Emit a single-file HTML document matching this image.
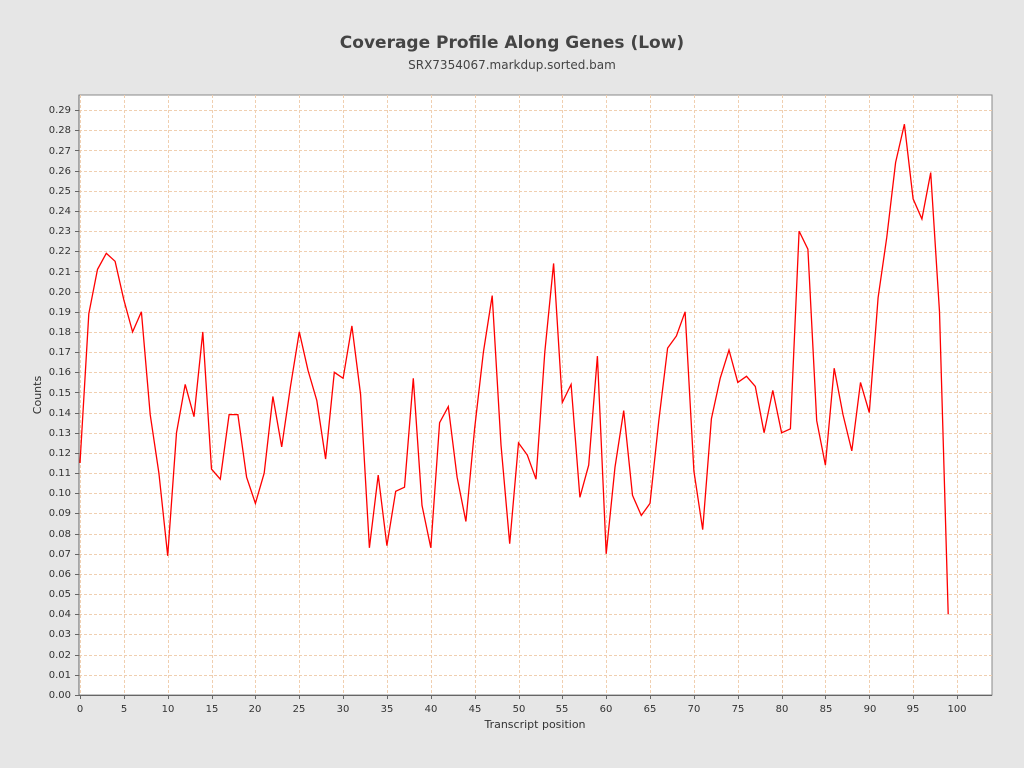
<!DOCTYPE html>
<html><head><meta charset="utf-8"><style>
html,body{margin:0;padding:0;background:#e6e6e6;}
svg{display:block;font-family:"DejaVu Sans","Liberation Sans",sans-serif;}
</style></head><body>
<svg id="s" width="1024" height="768" xmlns="http://www.w3.org/2000/svg">
<rect width="1024" height="768" fill="#e6e6e6"/>
<text x="512" y="48" text-anchor="middle" font-size="17" font-weight="bold" fill="#444">Coverage Profile Along Genes (Low)</text>
<text x="512" y="69" text-anchor="middle" font-size="12" fill="#444">SRX7354067.markdup.sorted.bam</text>
<rect x="79" y="95" width="913" height="600" fill="#fff" stroke="#888" stroke-width="1"/>
<g id="grid"></g>
<g font-size="10" fill="#333" text-anchor="end">
<text x="71" y="698">0.00</text><text x="71" y="678">0.01</text><text x="71" y="658">0.02</text><text x="71" y="637">0.03</text><text x="71" y="617">0.04</text><text x="71" y="597">0.05</text><text x="71" y="577">0.06</text><text x="71" y="557">0.07</text><text x="71" y="537">0.08</text><text x="71" y="516">0.09</text><text x="71" y="496">0.10</text><text x="71" y="476">0.11</text><text x="71" y="456">0.12</text><text x="71" y="436">0.13</text><text x="71" y="416">0.14</text><text x="71" y="396">0.15</text><text x="71" y="375">0.16</text><text x="71" y="355">0.17</text><text x="71" y="335">0.18</text><text x="71" y="315">0.19</text><text x="71" y="295">0.20</text><text x="71" y="275">0.21</text><text x="71" y="254">0.22</text><text x="71" y="234">0.23</text><text x="71" y="214">0.24</text><text x="71" y="194">0.25</text><text x="71" y="174">0.26</text><text x="71" y="154">0.27</text><text x="71" y="133">0.28</text><text x="71" y="113">0.29</text>
</g>
<g font-size="10" fill="#333" text-anchor="middle">
<text x="80" y="712">0</text><text x="124" y="712">5</text><text x="168" y="712">10</text><text x="212" y="712">15</text><text x="255" y="712">20</text><text x="299" y="712">25</text><text x="343" y="712">30</text><text x="387" y="712">35</text><text x="431" y="712">40</text><text x="475" y="712">45</text><text x="519" y="712">50</text><text x="562" y="712">55</text><text x="606" y="712">60</text><text x="650" y="712">65</text><text x="694" y="712">70</text><text x="738" y="712">75</text><text x="782" y="712">80</text><text x="826" y="712">85</text><text x="870" y="712">90</text><text x="913" y="712">95</text><text x="957" y="712">100</text>
</g>
<text x="535" y="728" text-anchor="middle" font-size="11" fill="#333">Transcript position</text>
<text x="41" y="395" text-anchor="middle" font-size="11" fill="#333" transform="rotate(-90 41 395)">Counts</text>
<polyline id="line" fill="none" stroke="#ff0000" stroke-width="1.3" points=""/>
</svg>
<script>
var d=[0.115,0.189,0.211,0.219,0.215,0.196,0.180,0.190,0.139,0.110,0.069,0.130,0.154,0.138,0.180,0.112,0.107,0.139,0.139,0.108,0.095,0.110,0.148,0.123,0.153,0.180,0.161,0.146,0.117,0.160,0.157,0.183,0.149,0.073,0.109,0.074,0.101,0.103,0.157,0.094,0.073,0.135,0.143,0.108,0.086,0.132,0.170,0.198,0.124,0.075,0.125,0.119,0.107,0.170,0.214,0.145,0.154,0.098,0.114,0.168,0.070,0.113,0.141,0.099,0.089,0.095,0.136,0.172,0.178,0.190,0.111,0.082,0.137,0.157,0.171,0.155,0.158,0.153,0.130,0.151,0.130,0.132,0.230,0.221,0.136,0.114,0.162,0.139,0.121,0.155,0.140,0.197,0.227,0.264,0.283,0.246,0.236,0.259,0.190,0.040];
function X(i){return 80+i*8.77;}function Y(v){return 695-v*2017;}
var ns="http://www.w3.org/2000/svg",g=document.getElementById("grid");
function ln(x1,y1,x2,y2,c,da){var l=document.createElementNS(ns,"line");l.setAttribute("x1",x1);l.setAttribute("y1",y1);l.setAttribute("x2",x2);l.setAttribute("y2",y2);l.setAttribute("stroke",c);l.setAttribute("stroke-width","1");if(da)l.setAttribute("stroke-dasharray",da);g.appendChild(l);}
for(var k=0;k<=29;k++){var y=Math.round(Y(k/100))+0.5;ln(79,y,992,y,"#f0cfb0","3,2");ln(75,y,79,y,"#666");}
for(var i=0;i<=100;i+=5){var x=Math.round(X(i))+0.5;ln(x,95,x,695,"#f0cfb0","3,2");ln(x,695,x,699,"#666");}
ln(79,95,79,695,"#666");ln(79,695.5,992,695.5,"#666");
document.getElementById("line").setAttribute("points",d.map(function(v,i){return X(i).toFixed(1)+","+Y(v).toFixed(1);}).join(" "));
</script>
</body></html>
